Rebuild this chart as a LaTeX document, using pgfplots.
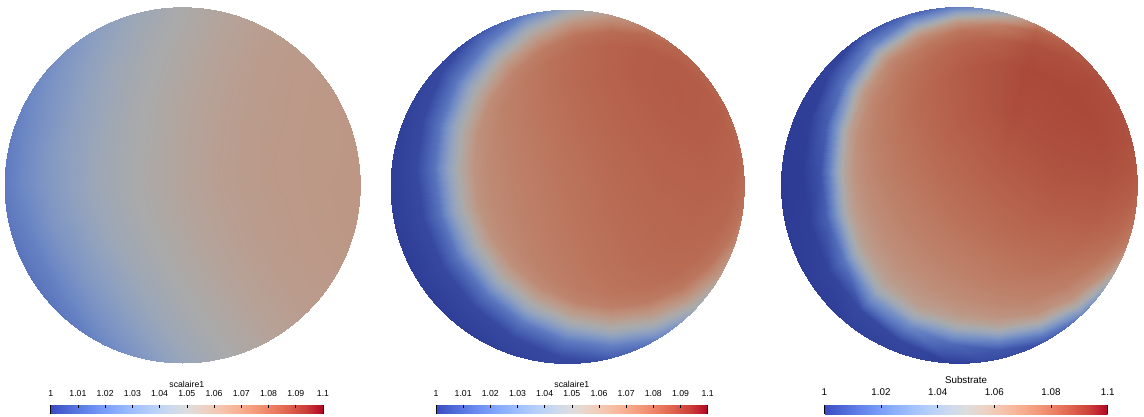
\documentclass[border=0pt]{standalone}
\usepackage{fontspec}
\setmainfont{Liberation Sans}
\usepackage{pgfplots}
\usepackage{pgfplotstable}
\pgfplotsset{compat=1.18}
\usetikzlibrary{calc}

% Cool to Warm map: dimmed version for the lit surfaces, plain version for the colour bars
\pgfplotsset{
  colormap={coolwarmlit}{
    rgb255=(45,59,148) rgb255=(59,80,166) rgb255=(75,100,180) rgb255=(92,119,190)
    rgb255=(109,136,196) rgb255=(126,149,196) rgb255=(142,160,192) rgb255=(157,167,183)
    rgb255=(170,170,170) rgb255=(182,162,152) rgb255=(189,151,133) rgb255=(190,136,114)
    rgb255=(188,119,95) rgb255=(182,98,76) rgb255=(171,74,59) rgb255=(156,48,43)
    rgb255=(139,3,29)},
  colormap={coolwarm}{
    rgb255=(59,76,192) rgb255=(77,104,215) rgb255=(98,130,234) rgb255=(119,154,247)
    rgb255=(141,176,254) rgb255=(163,194,255) rgb255=(184,208,249) rgb255=(204,217,238)
    rgb255=(221,221,221) rgb255=(236,211,197) rgb255=(245,196,173) rgb255=(247,177,148)
    rgb255=(244,154,123) rgb255=(236,127,99) rgb255=(222,96,77) rgb255=(203,62,56)
    rgb255=(180,4,38)},
  disc/.style={
    view={0}{90}, hide axis, scale only axis, anchor=center,
    xmin=-1, xmax=1, ymin=-1, ymax=1, zmin=-1, zmax=1,
    point meta min=1, point meta max=1.1,
    colormap name=coolwarm,
    colorbar horizontal,
    colorbar shift/.style={},
  },
  field/.style={surf, shader=interp, colormap name=coolwarmlit,
    point meta=explicit, mesh/rows=25},
  cbarbase/.style={
    scale only axis,
    anchor=north west,
    axis line style={draw=none},
    xtick pos=right, xticklabel pos=right,
    tick align=inside, major tick length=3pt,
    tick style={black, line width=0.7pt},
    xticklabel style={anchor=base, inner sep=0pt, text=black},
    every axis title/.style={at={(0.5,1)}, anchor=base, inner sep=0pt, text=black},
    extra x ticks={1,1.1}, extra x tick labels={},
  },
}

% field values on polar meshes: angle t (deg), ring radius d, value v
\pgfplotstableread[row sep=\\]{
t d v\\
0 0 1.055\\ 0 0.25 1.059\\ 0 0.5 1.061\\ 0 0.75 1.062\\ 0 0.9 1.0625\\ 0 1.02 1.063\\
15 0 1.055\\ 15 0.25 1.059\\ 15 0.5 1.061\\ 15 0.75 1.062\\ 15 0.9 1.062\\ 15 1.02 1.063\\
30 0 1.055\\ 30 0.25 1.0585\\ 30 0.5 1.0605\\ 30 0.75 1.0615\\ 30 0.9 1.062\\ 30 1.02 1.0623\\
45 0 1.055\\ 45 0.25 1.058\\ 45 0.5 1.0597\\ 45 0.75 1.0608\\ 45 0.9 1.0612\\ 45 1.02 1.0614\\
60 0 1.055\\ 60 0.25 1.0569\\ 60 0.5 1.0584\\ 60 0.75 1.0592\\ 60 0.9 1.0595\\ 60 1.02 1.0596\\
75 0 1.055\\ 75 0.25 1.0559\\ 75 0.5 1.0563\\ 75 0.75 1.0562\\ 75 0.9 1.0558\\ 75 1.02 1.0554\\
90 0 1.055\\ 90 0.25 1.0548\\ 90 0.5 1.054\\ 90 0.75 1.0524\\ 90 0.9 1.051\\ 90 1.02 1.05\\
105 0 1.055\\ 105 0.25 1.0535\\ 105 0.5 1.0515\\ 105 0.75 1.0482\\ 105 0.9 1.0459\\ 105 1.02 1.0428\\
120 0 1.055\\ 120 0.25 1.0524\\ 120 0.5 1.049\\ 120 0.75 1.0442\\ 120 0.9 1.0394\\ 120 1.02 1.0356\\
135 0 1.055\\ 135 0.25 1.0514\\ 135 0.5 1.0466\\ 135 0.75 1.0394\\ 135 0.9 1.034\\ 135 1.02 1.0285\\
150 0 1.055\\ 150 0.25 1.0506\\ 150 0.5 1.0447\\ 150 0.75 1.0359\\ 150 0.9 1.0293\\ 150 1.02 1.0234\\
165 0 1.055\\ 165 0.25 1.0502\\ 165 0.5 1.0434\\ 165 0.75 1.0343\\ 165 0.9 1.0263\\ 165 1.02 1.0203\\
180 0 1.055\\ 180 0.25 1.05\\ 180 0.5 1.043\\ 180 0.75 1.033\\ 180 0.9 1.0252\\ 180 1.02 1.019\\
195 0 1.055\\ 195 0.25 1.0499\\ 195 0.5 1.0426\\ 195 0.75 1.032\\ 195 0.9 1.0232\\ 195 1.02 1.0175\\
210 0 1.055\\ 210 0.25 1.0501\\ 210 0.5 1.0429\\ 210 0.75 1.0311\\ 210 0.9 1.0223\\ 210 1.02 1.0168\\
225 0 1.055\\ 225 0.25 1.0506\\ 225 0.5 1.0437\\ 225 0.75 1.0331\\ 225 0.9 1.0242\\ 225 1.02 1.0178\\
240 0 1.055\\ 240 0.25 1.0513\\ 240 0.5 1.0459\\ 240 0.75 1.0363\\ 240 0.9 1.0288\\ 240 1.02 1.0221\\
255 0 1.055\\ 255 0.25 1.0524\\ 255 0.5 1.048\\ 255 0.75 1.0416\\ 255 0.9 1.0358\\ 255 1.02 1.0303\\
270 0 1.055\\ 270 0.25 1.0536\\ 270 0.5 1.051\\ 270 0.75 1.0469\\ 270 0.9 1.0442\\ 270 1.02 1.0409\\
285 0 1.055\\ 285 0.25 1.055\\ 285 0.5 1.0538\\ 285 0.75 1.0521\\ 285 0.9 1.0507\\ 285 1.02 1.0493\\
300 0 1.055\\ 300 0.25 1.056\\ 300 0.5 1.0563\\ 300 0.75 1.0563\\ 300 0.9 1.0561\\ 300 1.02 1.056\\
315 0 1.055\\ 315 0.25 1.0571\\ 315 0.5 1.0586\\ 315 0.75 1.0595\\ 315 0.9 1.0598\\ 315 1.02 1.0601\\
330 0 1.055\\ 330 0.25 1.058\\ 330 0.5 1.06\\ 330 0.75 1.0611\\ 330 0.9 1.0614\\ 330 1.02 1.0617\\
345 0 1.055\\ 345 0.25 1.0586\\ 345 0.5 1.0606\\ 345 0.75 1.0617\\ 345 0.9 1.0622\\ 345 1.02 1.0625\\
360 0 1.055\\ 360 0.25 1.059\\ 360 0.5 1.061\\ 360 0.75 1.062\\ 360 0.9 1.0625\\ 360 1.02 1.063\\
}\discone

% second field, mesh centred on (0.245, 0.1)
\pgfplotstableread[row sep=\\]{
t d v\\
0 0 1.079\\ 0 0.3 1.0811\\ 0 0.55 1.0817\\ 0 0.7 1.0808\\ 0 0.78 1.0772\\ 0 0.85 1.0649\\ 0 0.92 1.0484\\ 0 1.0 1.0225\\ 0 1.1 1.005\\ 0 1.3 1.0\\
15 0 1.079\\ 15 0.3 1.0814\\ 15 0.55 1.0822\\ 15 0.7 1.0815\\ 15 0.78 1.0781\\ 15 0.85 1.0657\\ 15 0.92 1.0491\\ 15 1.0 1.0228\\ 15 1.1 1.005\\ 15 1.3 1.0\\
30 0 1.079\\ 30 0.3 1.0815\\ 30 0.55 1.0827\\ 30 0.7 1.0823\\ 30 0.78 1.079\\ 30 0.85 1.0665\\ 30 0.92 1.0499\\ 30 1.0 1.0232\\ 30 1.1 1.005\\ 30 1.3 1.0\\
45 0 1.079\\ 45 0.3 1.0815\\ 45 0.55 1.083\\ 45 0.7 1.0828\\ 45 0.78 1.0797\\ 45 0.85 1.0673\\ 45 0.92 1.0505\\ 45 1.0 1.0236\\ 45 1.1 1.005\\ 45 1.3 1.0\\
60 0 1.079\\ 60 0.3 1.0813\\ 60 0.55 1.0829\\ 60 0.7 1.0829\\ 60 0.78 1.0799\\ 60 0.85 1.0676\\ 60 0.92 1.0509\\ 60 1.0 1.0238\\ 60 1.1 1.005\\ 60 1.3 1.0\\
75 0 1.079\\ 75 0.3 1.0809\\ 75 0.55 1.0824\\ 75 0.7 1.0824\\ 75 0.78 1.0794\\ 75 0.85 1.0672\\ 75 0.92 1.0506\\ 75 1.0 1.0237\\ 75 1.1 1.005\\ 75 1.3 1.0\\
90 0 1.079\\ 90 0.3 1.0803\\ 90 0.55 1.0813\\ 90 0.7 1.0811\\ 90 0.78 1.0781\\ 90 0.85 1.066\\ 90 0.92 1.0497\\ 90 1.0 1.0233\\ 90 1.1 1.005\\ 90 1.3 1.0\\
105 0 1.079\\ 105 0.3 1.0795\\ 105 0.55 1.0798\\ 105 0.7 1.0791\\ 105 0.78 1.076\\ 105 0.85 1.064\\ 105 0.92 1.0481\\ 105 1.0 1.0224\\ 105 1.1 1.005\\ 105 1.3 1.0\\
120 0 1.079\\ 120 0.3 1.0786\\ 120 0.55 1.0779\\ 120 0.7 1.0766\\ 120 0.78 1.0732\\ 120 0.85 1.0614\\ 120 0.92 1.0458\\ 120 1.0 1.0213\\ 120 1.1 1.0045\\ 120 1.3 1.0\\
135 0 1.079\\ 135 0.3 1.0777\\ 135 0.55 1.0759\\ 135 0.7 1.0739\\ 135 0.78 1.0702\\ 135 0.85 1.0586\\ 135 0.92 1.0434\\ 135 1.0 1.02\\ 135 1.1 1.0044\\ 135 1.3 1.0\\
150 0 1.079\\ 150 0.3 1.0768\\ 150 0.55 1.0741\\ 150 0.7 1.0714\\ 150 0.78 1.0673\\ 150 0.85 1.0558\\ 150 0.92 1.0412\\ 150 1.0 1.0188\\ 150 1.1 1.0042\\ 150 1.3 1.0\\
165 0 1.079\\ 165 0.3 1.0761\\ 165 0.55 1.0726\\ 165 0.7 1.0693\\ 165 0.78 1.0651\\ 165 0.85 1.0537\\ 165 0.92 1.0394\\ 165 1.0 1.0179\\ 165 1.1 1.004\\ 165 1.3 1.0\\
180 0 1.079\\ 180 0.3 1.0757\\ 180 0.55 1.0717\\ 180 0.7 1.0681\\ 180 0.78 1.0638\\ 180 0.85 1.0525\\ 180 0.92 1.0384\\ 180 1.0 1.0174\\ 180 1.1 1.004\\ 180 1.3 1.0\\
195 0 1.079\\ 195 0.3 1.0755\\ 195 0.55 1.0715\\ 195 0.7 1.0679\\ 195 0.78 1.0636\\ 195 0.85 1.0523\\ 195 0.92 1.0383\\ 195 1.0 1.0173\\ 195 1.1 1.004\\ 195 1.3 1.0\\
210 0 1.079\\ 210 0.3 1.0756\\ 210 0.55 1.0719\\ 210 0.7 1.0686\\ 210 0.78 1.0644\\ 210 0.85 1.0531\\ 210 0.92 1.0389\\ 210 1.0 1.0177\\ 210 1.1 1.004\\ 210 1.3 1.0\\
225 0 1.079\\ 225 0.3 1.076\\ 225 0.55 1.0728\\ 225 0.7 1.07\\ 225 0.78 1.066\\ 225 0.85 1.0547\\ 225 0.92 1.0403\\ 225 1.0 1.0185\\ 225 1.1 1.004\\ 225 1.3 1.0\\
240 0 1.079\\ 240 0.3 1.0765\\ 240 0.55 1.0741\\ 240 0.7 1.0718\\ 240 0.78 1.0681\\ 240 0.85 1.0567\\ 240 0.92 1.042\\ 240 1.0 1.0193\\ 240 1.1 1.0042\\ 240 1.3 1.0\\
255 0 1.079\\ 255 0.3 1.0772\\ 255 0.55 1.0755\\ 255 0.7 1.0738\\ 255 0.78 1.0702\\ 255 0.85 1.0587\\ 255 0.92 1.0437\\ 255 1.0 1.0202\\ 255 1.1 1.0044\\ 255 1.3 1.0\\
270 0 1.079\\ 270 0.3 1.0779\\ 270 0.55 1.0769\\ 270 0.7 1.0755\\ 270 0.78 1.0722\\ 270 0.85 1.0606\\ 270 0.92 1.0452\\ 270 1.0 1.021\\ 270 1.1 1.0045\\ 270 1.3 1.0\\
285 0 1.079\\ 285 0.3 1.0786\\ 285 0.55 1.0781\\ 285 0.7 1.077\\ 285 0.78 1.0737\\ 285 0.85 1.0619\\ 285 0.92 1.0464\\ 285 1.0 1.0216\\ 285 1.1 1.0046\\ 285 1.3 1.0\\
300 0 1.079\\ 300 0.3 1.0792\\ 300 0.55 1.0791\\ 300 0.7 1.0781\\ 300 0.78 1.0748\\ 300 0.85 1.0629\\ 300 0.92 1.047\\ 300 1.0 1.0219\\ 300 1.1 1.0047\\ 300 1.3 1.0\\
315 0 1.079\\ 315 0.3 1.0798\\ 315 0.55 1.0799\\ 315 0.7 1.0789\\ 315 0.78 1.0755\\ 315 0.85 1.0634\\ 315 0.92 1.0474\\ 315 1.0 1.022\\ 315 1.1 1.0047\\ 315 1.3 1.0\\
330 0 1.079\\ 330 0.3 1.0803\\ 330 0.55 1.0805\\ 330 0.7 1.0795\\ 330 0.78 1.076\\ 330 0.85 1.0638\\ 330 0.92 1.0476\\ 330 1.0 1.0221\\ 330 1.1 1.0048\\ 330 1.3 1.0\\
345 0 1.079\\ 345 0.3 1.0808\\ 345 0.55 1.0811\\ 345 0.7 1.0801\\ 345 0.78 1.0766\\ 345 0.85 1.0642\\ 345 0.92 1.0479\\ 345 1.0 1.0222\\ 345 1.1 1.0049\\ 345 1.3 1.0\\
360 0 1.079\\ 360 0.3 1.0811\\ 360 0.55 1.0817\\ 360 0.7 1.0808\\ 360 0.78 1.0772\\ 360 0.85 1.0649\\ 360 0.92 1.0484\\ 360 1.0 1.0225\\ 360 1.1 1.005\\ 360 1.3 1.0\\
}\disctwo

% substrate field, mesh centred on (0.22, 0.075)
\pgfplotstableread[row sep=\\]{
t d v\\
0 0 1.0824\\ 0 0.35 1.0853\\ 0 0.6 1.0857\\ 0 0.74 1.0845\\ 0 0.82 1.0824\\ 0 0.87 1.0794\\ 0 0.91 1.074\\ 0 0.95 1.0641\\ 0 1.0 1.0423\\ 0 1.1 1.0061\\ 0 1.3 1.0\\
15 0 1.0824\\ 15 0.35 1.086\\ 15 0.6 1.0871\\ 15 0.74 1.086\\ 15 0.82 1.0842\\ 15 0.87 1.0813\\ 15 0.91 1.0757\\ 15 0.95 1.0657\\ 15 1.0 1.0434\\ 15 1.1 1.0062\\ 15 1.3 1.0\\
30 0 1.0824\\ 30 0.35 1.0865\\ 30 0.6 1.0878\\ 30 0.74 1.0866\\ 30 0.82 1.0832\\ 30 0.87 1.0778\\ 30 0.91 1.068\\ 30 0.95 1.0501\\ 30 1.0 1.0243\\ 30 1.1 1.0034\\ 30 1.3 1.0\\
45 0 1.0824\\ 45 0.35 1.0867\\ 45 0.6 1.0881\\ 45 0.74 1.0869\\ 45 0.82 1.084\\ 45 0.87 1.0797\\ 45 0.91 1.0702\\ 45 0.95 1.0534\\ 45 1.0 1.0272\\ 45 1.1 1.004\\ 45 1.3 1.0\\
60 0 1.0824\\ 60 0.35 1.0865\\ 60 0.6 1.0878\\ 60 0.74 1.0863\\ 60 0.82 1.0825\\ 60 0.87 1.0749\\ 60 0.91 1.0624\\ 60 0.95 1.0431\\ 60 1.0 1.0191\\ 60 1.1 1.0024\\ 60 1.3 1.0\\
75 0 1.0824\\ 75 0.35 1.087\\ 75 0.6 1.0878\\ 75 0.74 1.0857\\ 75 0.82 1.0806\\ 75 0.87 1.0681\\ 75 0.91 1.0493\\ 75 0.95 1.0269\\ 75 1.0 1.0072\\ 75 1.1 1.0\\ 75 1.3 1.0\\
90 0 1.0824\\ 90 0.35 1.0852\\ 90 0.6 1.0852\\ 90 0.74 1.0818\\ 90 0.82 1.0726\\ 90 0.87 1.0553\\ 90 0.91 1.0341\\ 90 0.95 1.0161\\ 90 1.0 1.005\\ 90 1.1 1.0\\ 90 1.3 1.0\\
105 0 1.0824\\ 105 0.35 1.0841\\ 105 0.6 1.0837\\ 105 0.74 1.0808\\ 105 0.82 1.0754\\ 105 0.87 1.0634\\ 105 0.91 1.0456\\ 105 0.95 1.0248\\ 105 1.0 1.0066\\ 105 1.1 1.0\\ 105 1.3 1.0\\
120 0 1.0824\\ 120 0.35 1.0829\\ 120 0.6 1.0816\\ 120 0.74 1.0788\\ 120 0.82 1.0747\\ 120 0.87 1.0676\\ 120 0.91 1.0562\\ 120 0.95 1.0389\\ 120 1.0 1.0173\\ 120 1.1 1.0021\\ 120 1.3 1.0\\
135 0 1.0824\\ 135 0.35 1.0816\\ 135 0.6 1.0794\\ 135 0.74 1.0764\\ 135 0.82 1.0729\\ 135 0.87 1.0689\\ 135 0.91 1.0602\\ 135 0.95 1.046\\ 135 1.0 1.0238\\ 135 1.1 1.0034\\ 135 1.3 1.0\\
150 0 1.0824\\ 150 0.35 1.0803\\ 150 0.6 1.0772\\ 150 0.74 1.0736\\ 150 0.82 1.0693\\ 150 0.87 1.0632\\ 150 0.91 1.0537\\ 150 0.95 1.038\\ 150 1.0 1.0176\\ 150 1.1 1.0023\\ 150 1.3 1.0\\
165 0 1.0824\\ 165 0.35 1.079\\ 165 0.6 1.075\\ 165 0.74 1.0709\\ 165 0.82 1.0658\\ 165 0.87 1.057\\ 165 0.91 1.0444\\ 165 0.95 1.0275\\ 165 1.0 1.0104\\ 165 1.1 1.0009\\ 165 1.3 1.0\\
180 0 1.0824\\ 180 0.35 1.078\\ 180 0.6 1.0733\\ 180 0.74 1.0686\\ 180 0.82 1.063\\ 180 0.87 1.053\\ 180 0.91 1.0391\\ 180 0.95 1.0222\\ 180 1.0 1.0067\\ 180 1.1 1.0003\\ 180 1.3 1.0\\
195 0 1.0824\\ 195 0.35 1.0772\\ 195 0.6 1.0719\\ 195 0.74 1.0671\\ 195 0.82 1.0621\\ 195 0.87 1.0542\\ 195 0.91 1.0428\\ 195 0.95 1.0276\\ 195 1.0 1.011\\ 195 1.1 1.0011\\ 195 1.3 1.0\\
210 0 1.0824\\ 210 0.35 1.0767\\ 210 0.6 1.0712\\ 210 0.74 1.0665\\ 210 0.82 1.0621\\ 210 0.87 1.0577\\ 210 0.91 1.0499\\ 210 0.95 1.0378\\ 210 1.0 1.0184\\ 210 1.1 1.0026\\ 210 1.3 1.0\\
225 0 1.0824\\ 225 0.35 1.0766\\ 225 0.6 1.0709\\ 225 0.74 1.0665\\ 225 0.82 1.063\\ 225 0.87 1.0596\\ 225 0.91 1.0545\\ 225 0.95 1.0464\\ 225 1.0 1.0298\\ 225 1.1 1.0041\\ 225 1.3 1.0\\
240 0 1.0824\\ 240 0.35 1.0768\\ 240 0.6 1.0712\\ 240 0.74 1.0668\\ 240 0.82 1.063\\ 240 0.87 1.0596\\ 240 0.91 1.0531\\ 240 0.95 1.0433\\ 240 1.0 1.0257\\ 240 1.1 1.0036\\ 240 1.3 1.0\\
255 0 1.0824\\ 255 0.35 1.0773\\ 255 0.6 1.072\\ 255 0.74 1.0675\\ 255 0.82 1.0627\\ 255 0.87 1.0561\\ 255 0.91 1.0464\\ 255 0.95 1.0319\\ 255 1.0 1.0141\\ 255 1.1 1.0017\\ 255 1.3 1.0\\
270 0 1.0824\\ 270 0.35 1.0781\\ 270 0.6 1.0734\\ 270 0.74 1.0688\\ 270 0.82 1.0634\\ 270 0.87 1.0542\\ 270 0.91 1.0407\\ 270 0.95 1.0242\\ 270 1.0 1.0082\\ 270 1.1 1.0006\\ 270 1.3 1.0\\
285 0 1.0824\\ 285 0.35 1.0792\\ 285 0.6 1.0752\\ 285 0.74 1.0708\\ 285 0.82 1.0648\\ 285 0.87 1.0538\\ 285 0.91 1.0382\\ 285 0.95 1.0204\\ 285 1.0 1.0054\\ 285 1.1 1.0\\ 285 1.3 1.0\\
300 0 1.0824\\ 300 0.35 1.0804\\ 300 0.6 1.0772\\ 300 0.74 1.0726\\ 300 0.82 1.0649\\ 300 0.87 1.0509\\ 300 0.91 1.0336\\ 300 0.95 1.0169\\ 300 1.0 1.0048\\ 300 1.1 1.0\\ 300 1.3 1.0\\
315 0 1.0824\\ 315 0.35 1.0817\\ 315 0.6 1.0793\\ 315 0.74 1.075\\ 315 0.82 1.0663\\ 315 0.87 1.0507\\ 315 0.91 1.032\\ 315 0.95 1.0153\\ 315 1.0 1.0047\\ 315 1.1 1.0\\ 315 1.3 1.0\\
330 0 1.0824\\ 330 0.35 1.083\\ 330 0.6 1.0818\\ 330 0.74 1.0787\\ 330 0.82 1.0736\\ 330 0.87 1.0624\\ 330 0.91 1.0458\\ 330 0.95 1.0257\\ 330 1.0 1.0075\\ 330 1.1 1.0002\\ 330 1.3 1.0\\
345 0 1.0824\\ 345 0.35 1.0842\\ 345 0.6 1.0838\\ 345 0.74 1.0818\\ 345 0.82 1.0786\\ 345 0.87 1.0743\\ 345 0.91 1.0652\\ 345 0.95 1.0494\\ 345 1.0 1.0251\\ 345 1.1 1.0037\\ 345 1.3 1.0\\
360 0 1.0824\\ 360 0.35 1.0853\\ 360 0.6 1.0857\\ 360 0.74 1.0845\\ 360 0.82 1.0824\\ 360 0.87 1.0794\\ 360 0.91 1.074\\ 360 0.95 1.0641\\ 360 1.0 1.0423\\ 360 1.1 1.0061\\ 360 1.3 1.0\\
}\discthree

\newcommand{\cbfont}{\fontsize{8.7}{10}\selectfont}
\newcommand{\cbfontb}{\fontsize{9.8}{11}\selectfont}

\begin{document}
\begin{tikzpicture}
\useasboundingbox (0,0) rectangle (1144pt,416pt);

% first time step
\begin{axis}[disc, at={(182.3pt,231pt)}, width=356pt, height=356pt,
  colorbar style={cbarbase,
    at={($(parent axis.south west)+(46.4pt,-42pt)$)},
    width=272.3pt, height=8.7pt,
    xtick={1,1.01,1.02,1.03,1.04,1.05,1.06,1.07,1.08,1.09,1.1},
    xticklabels={1,1.01,1.02,1.03,1.04,1.05,1.06,1.07,1.08,1.09,1.1},
    xticklabel style={font=\cbfont, yshift=8.3pt},
    extra x tick style={major tick length=8.7pt},
    title={scalaire1}, title style={font=\cbfont, yshift=17.3pt}}]
\clip (axis cs:0,0,0) circle [radius=178pt];
\addplot3[field, mesh/cols=6] table[x expr={\thisrow{d}*cos(\thisrow{t})},
  y expr={\thisrow{d}*sin(\thisrow{t})}, z expr=0, meta=v] {\discone};
\end{axis}

% second time step
\begin{axis}[disc, at={(567.3pt,229.5pt)}, width=354pt, height=354pt,
  colorbar style={cbarbase,
    at={($(parent axis.south west)+(45.7pt,-41.5pt)$)},
    width=271.7pt, height=8.7pt,
    xtick={1,1.01,1.02,1.03,1.04,1.05,1.06,1.07,1.08,1.09,1.1},
    xticklabels={1,1.01,1.02,1.03,1.04,1.05,1.06,1.07,1.08,1.09,1.1},
    xticklabel style={font=\cbfont, yshift=8.3pt},
    extra x tick style={major tick length=8.7pt},
    title={scalaire1}, title style={font=\cbfont, yshift=17.3pt}}]
\clip (axis cs:0,0,0) circle [radius=177pt];
\addplot3[field, mesh/cols=10] table[x expr={0.245+\thisrow{d}*cos(\thisrow{t})},
  y expr={0.1+\thisrow{d}*sin(\thisrow{t})}, z expr=0, meta=v] {\disctwo};
\end{axis}

% substrate
\begin{axis}[disc, at={(959pt,231pt)}, width=356.6pt, height=356.6pt,
  colorbar style={cbarbase,
    at={($(parent axis.south west)+(43.6pt,-41.7pt)$)},
    width=283.4pt, height=9.3pt,
    xtick={1,1.02,1.04,1.06,1.08,1.1},
    xticklabels={1,1.02,1.04,1.06,1.08,1.1},
    xticklabel style={font=\cbfontb, yshift=9.3pt},
    extra x tick style={major tick length=9.3pt},
    title={Substrate}, title style={font=\cbfontb, yshift=21.7pt}}]
\clip (axis cs:0,0,0) circle [radius=178.3pt];
\addplot3[field, mesh/cols=11] table[x expr={0.22+\thisrow{d}*cos(\thisrow{t})},
  y expr={0.075+\thisrow{d}*sin(\thisrow{t})}, z expr=0, meta=v] {\discthree};
\end{axis}
\end{tikzpicture}
\end{document}
